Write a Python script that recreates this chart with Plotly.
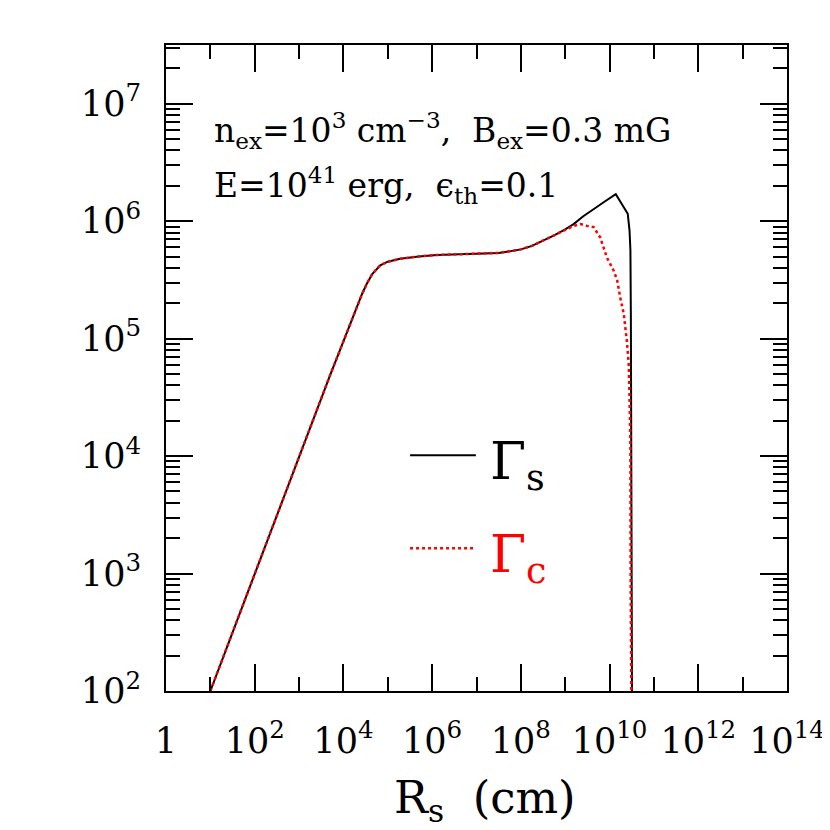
import numpy as np
import plotly.graph_objects as go

# log10 values (R_s in cm, Gamma)
logR_s = [1.0, 2.0, 3.0, 3.7, 3.9, 4.08, 4.2, 4.31, 4.42, 4.53, 4.65, 4.83, 5.0, 5.28,
          5.7, 6.11, 7.0, 7.5, 7.77, 8.0, 8.25, 8.51, 8.75, 9.0, 9.19, 9.4, 9.64,
          9.9, 10.14, 10.41, 10.45, 10.47, 10.48, 10.50, 10.505]
logG_s = [2.0, 3.0, 4.0, 4.69, 4.88, 5.05, 5.17, 5.28, 5.38, 5.47, 5.55, 5.625, 5.655, 5.68,
          5.70, 5.712, 5.72, 5.73, 5.745, 5.76, 5.79, 5.835, 5.88, 5.93, 5.975, 6.04, 6.105,
          6.17, 6.23, 6.063, 5.92, 5.75, 5.21, 3.51, 2.0]

logR_c = [1.0, 2.0, 3.0, 3.7, 3.9, 4.08, 4.2, 4.31, 4.42, 4.53, 4.65, 4.83, 5.0, 5.28,
          5.7, 6.11, 7.0, 7.5, 7.77, 8.0, 8.25, 8.51, 8.75, 9.0, 9.19, 9.35, 9.49,
          9.64, 9.79, 9.94, 10.09, 10.17, 10.24, 10.32, 10.39, 10.43, 10.45, 10.47,
          10.475, 10.49]
logG_c = [2.0, 3.0, 4.0, 4.69, 4.88, 5.05, 5.17, 5.28, 5.38, 5.47, 5.55, 5.625, 5.655, 5.68,
          5.70, 5.712, 5.72, 5.73, 5.745, 5.76, 5.79, 5.835, 5.88, 5.925, 5.96, 5.975, 5.96,
          5.95, 5.86, 5.69, 5.58, 5.50, 5.35, 5.21, 4.98, 4.79, 4.50, 4.08,
          2.94, 2.0]

x_ticks = [1, 1e2, 1e4, 1e6, 1e8, 1e10, 1e12, 1e14]
x_labels = ["1", "10<sup>2</sup>", "10<sup>4</sup>", "10<sup>6</sup>", "10<sup>8</sup>",
            "10<sup>10</sup>", "10<sup>12</sup>", "10<sup>14</sup>"]
x_minor = [1e1, 1e3, 1e5, 1e7, 1e9, 1e11, 1e13]
y_ticks = [1e2, 1e3, 1e4, 1e5, 1e6, 1e7]
y_labels = ["10<sup>%d</sup>" % k for k in range(2, 8)]
y_minor = [m * 10 ** k for k in range(2, 8) for m in range(2, 10)]

FONT = "DejaVu Serif"

fig = go.Figure()
fig.add_trace(go.Scatter(
    x=10 ** np.array(logR_s), y=10 ** np.array(logG_s),
    mode="lines", line=dict(color="black", width=2), showlegend=False))
fig.add_trace(go.Scatter(
    x=10 ** np.array(logR_c), y=10 ** np.array(logG_c),
    mode="lines", line=dict(color="red", width=2.5, dash="3px,3px"), showlegend=False))

axis_common = dict(
    type="log", showgrid=False, zeroline=False, automargin=False,
    showline=True, linecolor="black", linewidth=2, mirror="ticks",
    ticks="inside", ticklen=27, tickwidth=1.5, tickcolor="black",
    tickfont=dict(family=FONT, size=35, color="black"),
)

fig.update_xaxes(
    **axis_common, range=[0, 14],
    tickmode="array", tickvals=x_ticks, ticktext=x_labels,
    minor=dict(tickvals=x_minor, ticklen=14, tickwidth=1.5, tickcolor="black", ticks="inside"),
    ticklabelstandoff=18,
)
fig.update_yaxes(
    **axis_common, range=[2, 7.5],
    tickmode="array", tickvals=y_ticks, ticktext=y_labels,
    minor=dict(tickvals=y_minor, ticklen=14, tickwidth=1.5, tickcolor="black", ticks="inside"),
    ticklabelstandoff=16,
)

annotations = [
    dict(text="n<sub>ex</sub>=10<sup>3</sup> cm<sup>−3</sup>,&nbsp; B<sub>ex</sub>=0.3 mG",
         x=0.074, y=0.868, font=dict(size=33, color="black")),
    dict(text="E=10<sup>41</sup> erg,&nbsp; ϵ<sub>th</sub>=0.1",
         x=0.074, y=0.782, font=dict(size=33, color="black")),
    dict(text="Γ<sub>s</sub>", x=0.518, y=0.35, font=dict(size=52, color="black")),
    dict(text="Γ<sub>c</sub>", x=0.518, y=0.206, font=dict(size=52, color="red")),
    dict(text="R<sub>s</sub>&nbsp; (cm)", x=0.513, y=-0.169, xanchor="center",
         font=dict(size=45, color="black")),
]
for a in annotations:
    a.setdefault("xanchor", "left")
    a.update(xref="paper", yref="paper", yanchor="middle", showarrow=False)
    a["font"]["family"] = FONT

# legend sample lines
shapes = [
    dict(type="line", xref="paper", yref="paper", x0=0.393, x1=0.499, y0=0.365, y1=0.365,
         line=dict(color="black", width=2)),
    dict(type="line", xref="paper", yref="paper", x0=0.393, x1=0.499, y0=0.221, y1=0.221,
         line=dict(color="red", width=2.5, dash="3px,3px")),
]

# the page body adds an 8px offset, so margins are shifted to compensate
fig.update_layout(
    width=830, height=830,
    margin=dict(l=158, r=51, t=37, b=147),
    paper_bgcolor="white", plot_bgcolor="white",
    font=dict(family=FONT, color="black"),
    annotations=annotations, shapes=shapes,
)

fig.write_html("out.html")
